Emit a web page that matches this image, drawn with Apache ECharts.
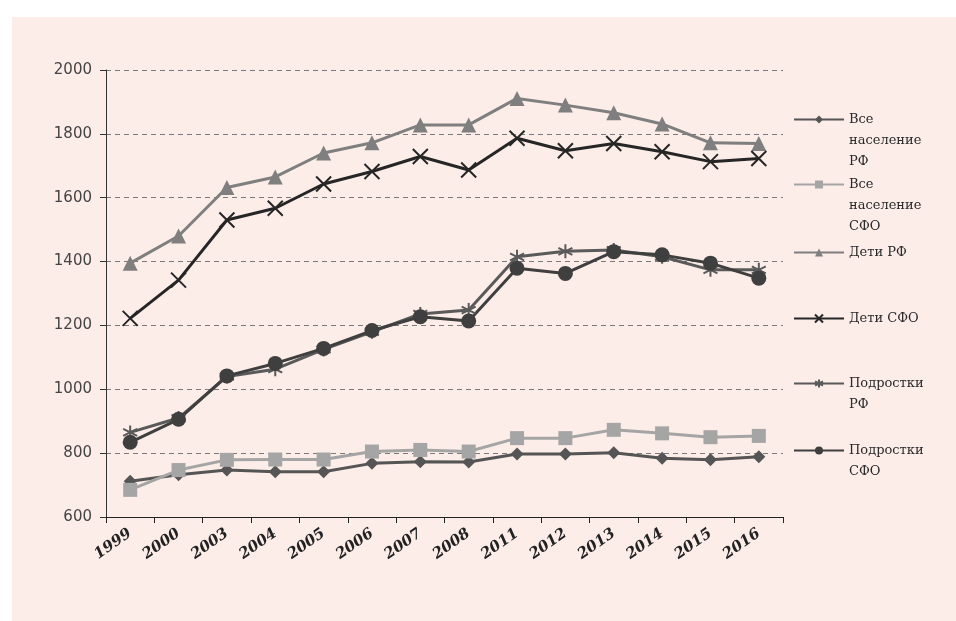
<!DOCTYPE html>
<html>
<head>
<meta charset="utf-8">
<script src="https://cdn.jsdelivr.net/npm/echarts@6/dist/echarts.min.js"></script>
<style>
html,body{margin:0;padding:0;background:#ffffff;}
#chart{position:absolute;left:12px;top:17px;width:944px;height:604px;background:#fcede9;}
</style>
</head>
<body>
<div id="chart"></div>
<script>
var categories = ['1999','2000','2003','2004','2005','2006','2007','2008','2011','2012','2013','2014','2015','2016'];
var vsePopRF   = [712, 732, 747, 742, 742, 768, 773, 772, 797, 797, 801, 784, 779, 789];
var vsePopSFO  = [685, 747, 779, 780, 780, 805, 810, 805, 847, 847, 873, 862, 850, 854];
var detiRF     = [1395, 1480, 1632, 1665, 1740, 1772, 1828, 1828, 1911, 1890, 1866, 1831, 1772, 1770];
var detiSFO    = [1222, 1342, 1530, 1567, 1643, 1682, 1729, 1687, 1786, 1747, 1770, 1744, 1713, 1723];
var podrRF     = [865, 910, 1040, 1063, 1125, 1180, 1236, 1248, 1415, 1432, 1436, 1415, 1374, 1374];
var podrSFO    = [834, 906, 1042, 1081, 1128, 1184, 1227, 1214, 1379, 1363, 1431, 1421, 1395, 1348];
var seriesNames = ['Все население РФ','Все население СФО','Дети РФ','Дети СФО','Подростки РФ','Подростки СФО'];
var legendLines = [['Все','население','РФ'],['Все','население','СФО'],['Дети РФ'],['Дети СФО'],['Подростки','РФ'],['Подростки','СФО']];
var yTicks = {min: 600, max: 2000, interval: 200};

var colors = ['#555555','#a5a5a5','#7f7f7f','#262626','#5a5a5a','#3f3f3f'];
var symbols = ['diamond','rect','triangle',
  'path://M0,0L10,10M10,0L0,10',
  'path://M5,0L5,10M0.7,2.5L9.3,7.5M9.3,2.5L0.7,7.5',
  'circle'];
var symSizes = [13, 14, 15, 15, 14, 15];
var dataSets = [vsePopRF, vsePopSFO, detiRF, detiSFO, podrRF, podrSFO];
var legendCenters = [118, 183, 251, 317, 382, 449];
var LH = 21;

var chart = echarts.init(document.getElementById('chart'), null, {renderer:'canvas'});

var series = seriesNames.map(function(n, i){
  var isStroke = (i === 3 || i === 4);
  return {
    name: n,
    type: 'line',
    data: dataSets[i],
    symbol: symbols[i],
    symbolSize: symSizes[i],
    lineStyle: {color: colors[i], width: 3},
    itemStyle: isStroke ? {color: colors[i], borderColor: colors[i], borderWidth: 2} : {color: colors[i]},
    emphasis: {disabled: true},
    animation: false
  };
});

var legends = seriesNames.map(function(n, i){
  var lines = legendLines[i];
  var pre = '';
  for (var k = 1; k < lines.length; k++) pre += '\n';
  var label = pre + lines.join('\n');
  return {
    orient: 'vertical',
    left: 793 - 12,
    top: legendCenters[i] - 17 - 9 - (lines.length - 1) * LH,
    padding: 0,
    itemWidth: 50,
    itemHeight: 10,
    itemGap: 0,
    selectedMode: false,
    formatter: function(){ return label; },
    textStyle: {
      fontFamily: 'DejaVu Serif',
      fontSize: 13,
      color: '#2a2a2a',
      lineHeight: LH
    },
    data: [{name: n}]
  };
});

chart.setOption({
  animation: false,
  backgroundColor: 'transparent',
  grid: {left: 94, right: 173, top: 53, bottom: 104, containLabel: false},
  legend: legends,
  xAxis: {
    type: 'category',
    data: categories,
    boundaryGap: true,
    axisLine: {lineStyle: {color: '#222', width: 1}},
    axisTick: {show: true, length: 6, alignWithLabel: false, lineStyle: {color: '#222'}},
    axisLabel: {
      rotate: 35,
      margin: 15,
      interval: 0,
      fontFamily: 'DejaVu Serif',
      fontWeight: 'bold',
      fontStyle: 'italic',
      fontSize: 15,
      color: '#222'
    },
    splitLine: {show: false}
  },
  yAxis: {
    type: 'value',
    min: yTicks.min,
    max: yTicks.max,
    interval: yTicks.interval,
    axisLine: {show: true, lineStyle: {color: '#333', width: 1}},
    axisTick: {show: true, length: 6, lineStyle: {color: '#333'}},
    axisLabel: {fontFamily: 'DejaVu Sans', fontSize: 15, color: '#444', margin: 14,
      formatter: function(v){ return String(v); }},
    splitLine: {show: true, lineStyle: {color: '#7a7a7a', type: [5, 4], width: 1}}
  },
  series: series
});
</script>
</body>
</html>
